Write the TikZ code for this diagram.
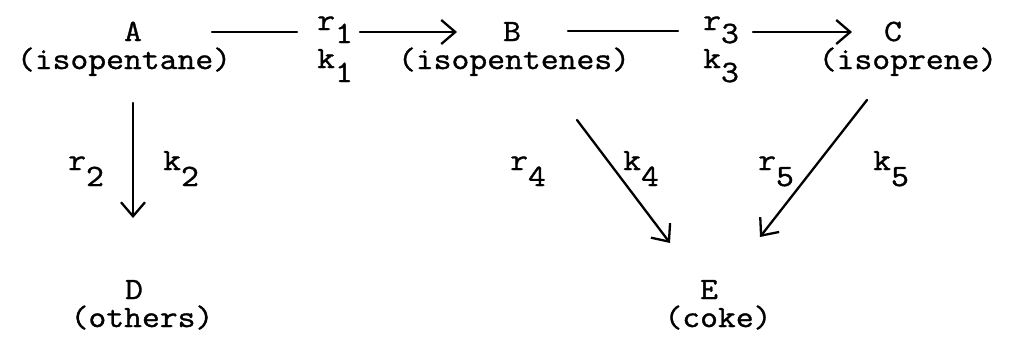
\documentclass[tikz,border=0pt]{standalone}
\usepackage{fontspec}
\newfontfamily\twfont{Latin Modern Mono}[FakeStretch=1.118,UprightFeatures={FakeBold=1.1}]
\usetikzlibrary{arrows.meta}
\begin{document}
\begin{tikzpicture}[x=1pt,y=-1pt,
  tw/.style={inner sep=0pt,font=\twfont\fontsize{31}{26}\selectfont},
  top/.style={tw,anchor=base,text height=19pt,text depth=0pt},
  bot/.style={tw,anchor=base,text height=18pt,text depth=6pt},
  lab/.style={tw,anchor=base west},
  rx/.style={line width=2.3pt,line cap=round},
  arr/.style={rx,-{Straight Barb[length=14pt,width=24pt,line width=2.3pt]}}]
\useasboundingbox (0,0) rectangle (1010,338);
% species
\node[top] (A) at (133,41) {A};
\node[bot] (An) at (124,69) {(isopentane)};
\node[top] (B) at (512,41) {B};
\node[bot] (Bn) at (514,69) {(isopentenes)};
\node[top] (C) at (893,41) {C};
\node[bot] (Cn) at (908,69) {(isoprene)};
\node[top] (D) at (134,299) {D};
\node[bot] (Dn) at (142,327) {(others)};
\node[top] (E) at (709,299) {E};
\node[bot] (En) at (718,327) {(coke)};
% rate labels
\node[lab] (r1) at (317,30) {r\raisebox{-13pt}{1}};
\node[lab] (k1) at (317,68) {k\raisebox{-14pt}{1}};
\node[lab] (r3) at (703,30) {r\raisebox{-13pt}{3}};
\node[lab] (k3) at (703,68) {k\raisebox{-14pt}{3}};
\node[lab] (r2) at (68,170) {r\raisebox{-16pt}{2}};
\node[lab] (k2) at (163,170) {k\raisebox{-16pt}{2}};
\node[lab] (r4) at (510,170) {r\raisebox{-16pt}{4}};
\node[lab] (k4) at (623,170) {k\raisebox{-16pt}{4}};
\node[lab] (r5) at (758,170) {r\raisebox{-16pt}{5}};
\node[lab] (k5) at (873,170) {k\raisebox{-16pt}{5}};
% connector end points
\coordinate (ab1) at (212,32);
\coordinate (ab2) at (297,32);
\coordinate (ab3) at (360,32);
\coordinate (ab4) at (457,32);
\coordinate (bc1) at (568,31);
\coordinate (bc2) at (678,31);
\coordinate (bc3) at (753,32);
\coordinate (bc4) at (852,32);
\coordinate (ad1) at (133,103);
\coordinate (ad2) at (133,218);
\coordinate (be1) at (577,120);
\coordinate (be2) at (670,243);
\coordinate (ce1) at (867,100);
\coordinate (ce2) at (760,237);
% connectors
\draw[rx] (ab1) -- (ab2);
\draw[arr] (ab3) -- (ab4);
\draw[rx] (bc1) -- (bc2);
\draw[arr] (bc3) -- (bc4);
\draw[arr] (ad1) -- (ad2);
\draw[arr] (be1) -- (be2);
\draw[arr] (ce1) -- (ce2);
\end{tikzpicture}
\end{document}
